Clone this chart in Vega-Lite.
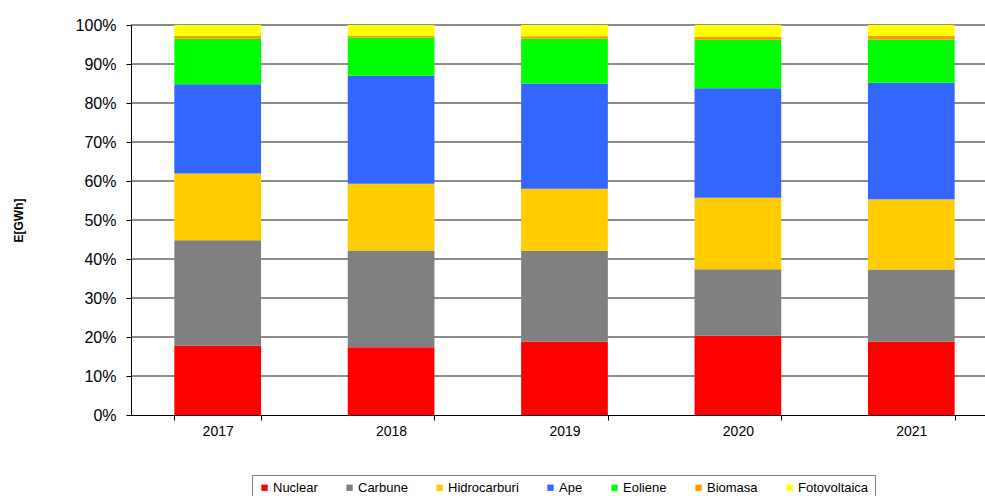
{
  "$schema": "https://vega.github.io/schema/vega-lite/v6.json",
  "autosize": {"type": "none"},
  "padding": {"left": 131, "top": 25, "right": 0, "bottom": 81},
  "width": 854,
  "height": 390,
  "background": "white",
  "config": {
    "font": "Liberation Sans",
    "view": {"stroke": null},
    "axis": {"labelColor": "#000", "titleColor": "#000", "domainColor": "#000", "tickColor": "#000", "labelFont": "Liberation Sans", "titleFont": "Liberation Sans", "grid": false}
  },
  "datasets": {
    "gridlines": [
      {"v": 0.1}, {"v": 0.2}, {"v": 0.3}, {"v": 0.4}, {"v": 0.5},
      {"v": 0.6}, {"v": 0.7}, {"v": 0.8}, {"v": 0.9}, {"v": 1.0}
    ],
    "energy": [
      {"year": "2017", "source": "Nuclear", "share": 17.8},
      {"year": "2017", "source": "Carbune", "share": 27.0},
      {"year": "2017", "source": "Hidrocarburi", "share": 17.1},
      {"year": "2017", "source": "Ape", "share": 22.9},
      {"year": "2017", "source": "Eoliene", "share": 11.7},
      {"year": "2017", "source": "Biomasa", "share": 0.7},
      {"year": "2017", "source": "Fotovoltaica", "share": 2.8},
      {"year": "2018", "source": "Nuclear", "share": 17.4},
      {"year": "2018", "source": "Carbune", "share": 24.8},
      {"year": "2018", "source": "Hidrocarburi", "share": 17.1},
      {"year": "2018", "source": "Ape", "share": 27.7},
      {"year": "2018", "source": "Eoliene", "share": 9.8},
      {"year": "2018", "source": "Biomasa", "share": 0.5},
      {"year": "2018", "source": "Fotovoltaica", "share": 2.7},
      {"year": "2019", "source": "Nuclear", "share": 18.8},
      {"year": "2019", "source": "Carbune", "share": 23.3},
      {"year": "2019", "source": "Hidrocarburi", "share": 15.9},
      {"year": "2019", "source": "Ape", "share": 27.0},
      {"year": "2019", "source": "Eoliene", "share": 11.5},
      {"year": "2019", "source": "Biomasa", "share": 0.6},
      {"year": "2019", "source": "Fotovoltaica", "share": 2.9},
      {"year": "2020", "source": "Nuclear", "share": 20.3},
      {"year": "2020", "source": "Carbune", "share": 17.1},
      {"year": "2020", "source": "Hidrocarburi", "share": 18.3},
      {"year": "2020", "source": "Ape", "share": 28.1},
      {"year": "2020", "source": "Eoliene", "share": 12.4},
      {"year": "2020", "source": "Biomasa", "share": 0.7},
      {"year": "2020", "source": "Fotovoltaica", "share": 3.1},
      {"year": "2021", "source": "Nuclear", "share": 18.8},
      {"year": "2021", "source": "Carbune", "share": 18.5},
      {"year": "2021", "source": "Hidrocarburi", "share": 18.0},
      {"year": "2021", "source": "Ape", "share": 29.9},
      {"year": "2021", "source": "Eoliene", "share": 11.1},
      {"year": "2021", "source": "Biomasa", "share": 0.9},
      {"year": "2021", "source": "Fotovoltaica", "share": 2.8}
    ]
  },
  "layer": [
    {
      "data": {"name": "gridlines"},
      "mark": {"type": "rule", "color": "#1a1a1a", "strokeWidth": 1},
      "encoding": {
        "y": {
          "field": "v",
          "type": "quantitative",
          "scale": {"domain": [0, 1], "nice": false},
          "axis": {
            "values": [0, 0.1, 0.2, 0.3, 0.4, 0.5, 0.6, 0.7, 0.8, 0.9, 1],
            "format": ".0%",
            "title": "E[GWh]",
            "titleFontSize": 12,
            "titleFontWeight": "bold",
            "titlePadding": 50,
            "labelFontSize": 16,
            "labelPadding": 10,
            "tickSize": 5
          }
        }
      }
    },
    {
      "data": {"name": "energy"},
      "transform": [
        {"calculate": "indexof(['Nuclear','Carbune','Hidrocarburi','Ape','Eoliene','Biomasa','Fotovoltaica'], datum.source)", "as": "stackOrder"}
      ],
      "mark": {"type": "bar"},
      "encoding": {
        "x": {
          "field": "year",
          "type": "ordinal",
          "scale": {"paddingInner": 0.5, "paddingOuter": 0.2125, "align": 0.588},
          "axis": {"title": null, "labelAngle": 0, "tickBand": "extent", "labelFontSize": 14, "tickSize": 5, "labelPadding": 4, "domainWidth": 1}
        },
        "y": {
          "field": "share",
          "type": "quantitative",
          "stack": "normalize",
          "scale": {"domain": [0, 1], "nice": false},
          "axis": {
            "values": [0, 0.1, 0.2, 0.3, 0.4, 0.5, 0.6, 0.7, 0.8, 0.9, 1],
            "format": ".0%",
            "title": "E[GWh]",
            "titleFontSize": 12,
            "titleFontWeight": "bold",
            "titlePadding": 50,
            "labelFontSize": 16,
            "labelPadding": 10,
            "tickSize": 5
          }
        },
        "order": {"field": "stackOrder", "type": "quantitative", "sort": "ascending"},
        "color": {
          "field": "source",
          "type": "nominal",
          "sort": ["Nuclear", "Carbune", "Hidrocarburi", "Ape", "Eoliene", "Biomasa", "Fotovoltaica"],
          "scale": {
            "domain": ["Nuclear", "Carbune", "Hidrocarburi", "Ape", "Eoliene", "Biomasa", "Fotovoltaica"],
            "range": ["#FF0000", "#808080", "#FFCC00", "#3366FF", "#00FF00", "#FF9900", "#FFFF00"]
          },
          "legend": {
            "title": null,
            "orient": "none",
            "direction": "horizontal",
            "legendX": 121,
            "legendY": 450,
            "padding": 6,
            "strokeColor": "#808080",
            "symbolType": "square",
            "symbolSize": 40,
            "symbolStrokeWidth": 0,
            "symbolOpacity": 1,
            "labelFontSize": 13,
            "labelColor": "#000",
            "labelOffset": 2,
            "columnPadding": 25,
            "labelFont": "Liberation Sans"
          }
        }
      }
    }
  ]
}
